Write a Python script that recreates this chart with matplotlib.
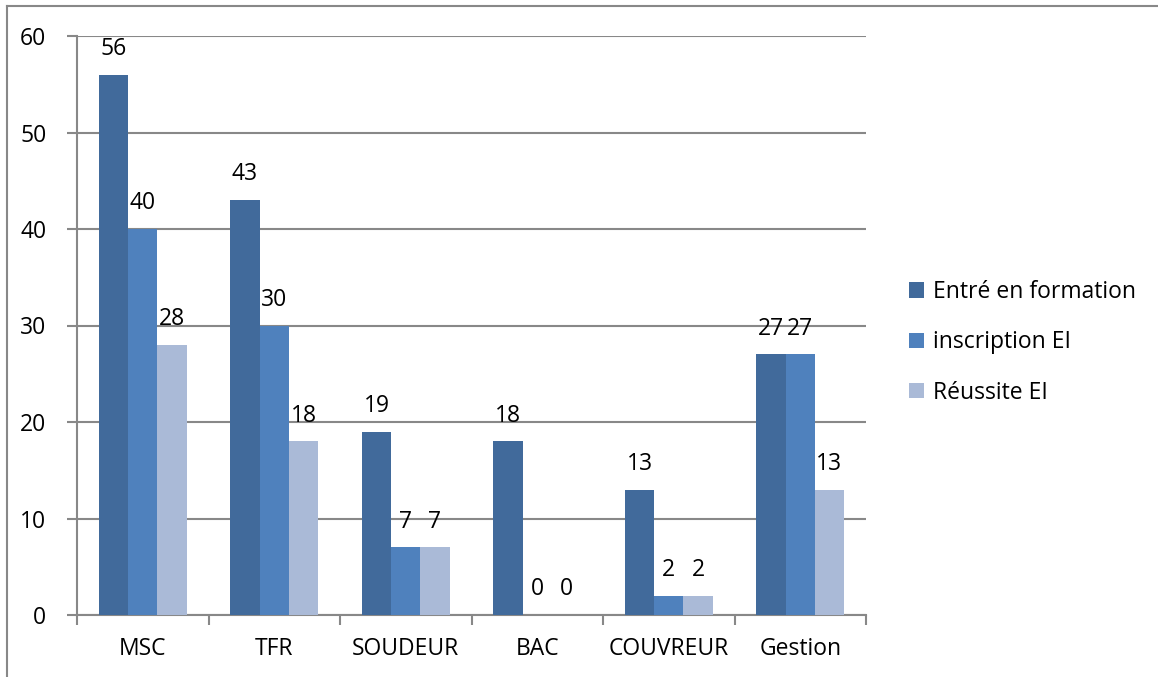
import numpy as np
import matplotlib.pyplot as plt
from matplotlib.lines import Line2D

plt.rcParams['font.family'] = ['Open Sans', 'DejaVu Sans']

categories = ["MSC", "TFR", "SOUDEUR", "BAC", "COUVREUR", "Gestion"]
series_names = ["Entré en formation", "inscription EI", "Réussite EI"]
entree = [56, 43, 19, 18, 13, 27]
inscription = [40, 30, 7, 0, 2, 27]
reussite = [28, 18, 7, 0, 2, 13]

colors = ["#416A9B", "#4F81BD", "#AABAD7"]
series = [entree, inscription, reussite]

fig = plt.figure(figsize=(11.58, 6.77), dpi=100)
ax = fig.add_axes([77 / 1158, 1 - 615 / 677, (866 - 77) / 1158, (615 - 36) / 677])

x = np.arange(len(categories))
w = 1 / 4.5
for i, (vals, name, col) in enumerate(zip(series, series_names, colors)):
    pos = x + (i - 1) * w
    ax.bar(pos, vals, width=w, color=col, label=name, zorder=3)
    for px, v in zip(pos, vals):
        ax.annotate(str(v), (px, v), xytext=(0, 18.5), textcoords="offset points",
                    ha="center", va="center", fontsize=16.5, zorder=4)

ax.set_xlim(-0.5, len(categories) - 0.5)
ax.set_ylim(0, 60)
ax.set_yticks(range(0, 61, 10))
ax.yaxis.grid(True, color="#888888", linewidth=1.5, zorder=0)
ax.set_axisbelow(True)

ax.set_xticks(x)
ax.set_xticklabels(categories, fontsize=16.5)
ax.set_xticks(np.arange(-0.5, len(categories), 1), minor=True)
ax.tick_params(axis="x", which="major", length=0, pad=16)
ax.tick_params(axis="x", which="minor", length=7, width=1.5, color="#888888")
ax.tick_params(axis="y", length=7, width=1.5, color="#888888", labelsize=16.5, pad=15)

for s in ["top", "right"]:
    ax.spines[s].set_visible(False)
for s in ["left", "bottom"]:
    ax.spines[s].set_color("#888888")
    ax.spines[s].set_linewidth(1.5)

leg = ax.legend(loc="center left", bbox_to_anchor=(1.028, 0.471), frameon=False,
                fontsize=16.5, handlelength=0.65, handleheight=0.65,
                handletextpad=0.4, labelspacing=1.15)

# outer chart frame
fig.add_artist(Line2D([7 / 1158, 1], [1 - 6 / 677, 1 - 6 / 677],
                      transform=fig.transFigure, color="#888888", linewidth=1.5))
fig.add_artist(Line2D([7 / 1158, 7 / 1158], [0, 1 - 6 / 677],
                      transform=fig.transFigure, color="#888888", linewidth=1.5))

plt.savefig("out.png", dpi=100)
